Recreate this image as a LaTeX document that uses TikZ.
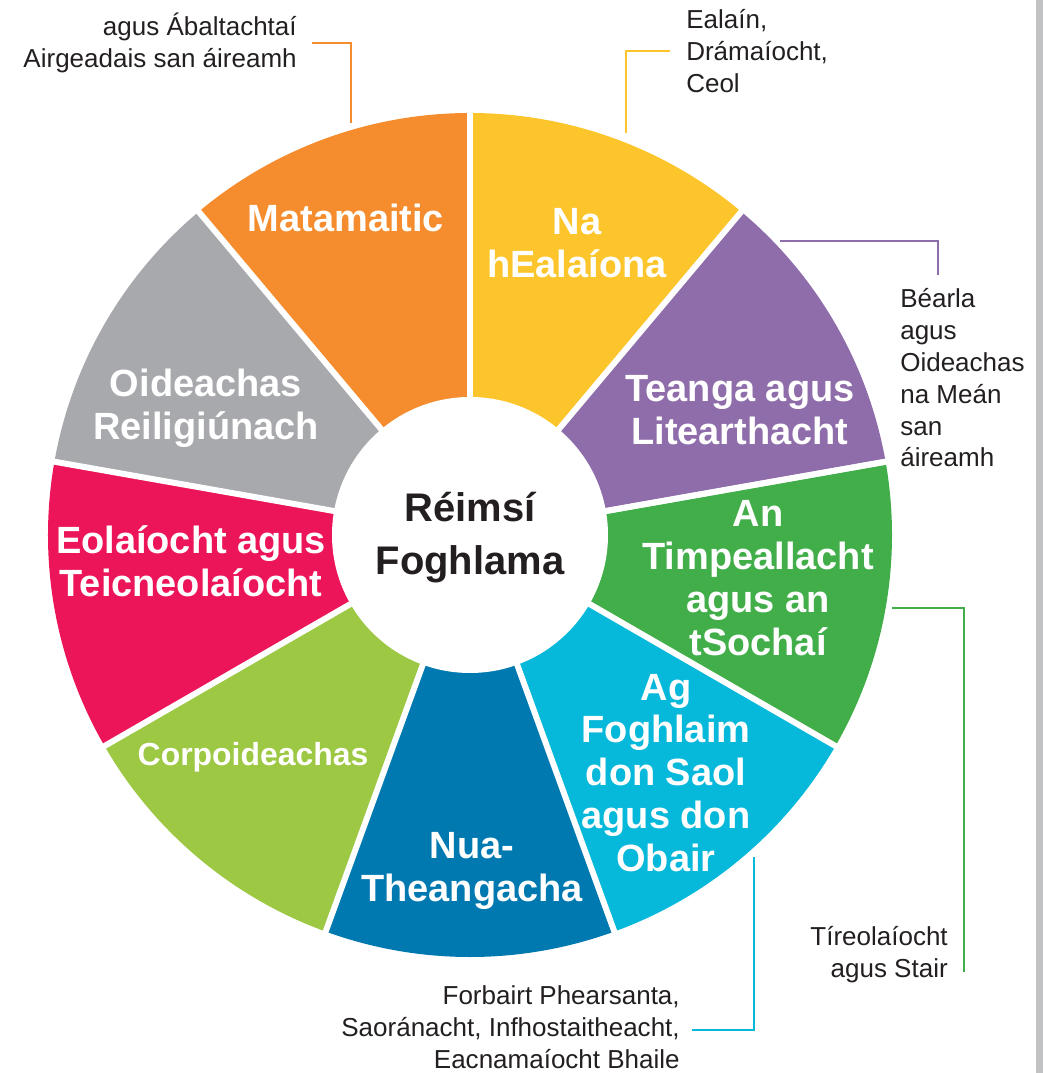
\documentclass[tikz,border=0pt]{standalone}
\usepackage{fontspec}
\setmainfont{Liberation Sans}
\usetikzlibrary{positioning}
\definecolor{mathorange}{HTML}{F58D2E}
\definecolor{artsyellow}{HTML}{FDC52C}
\definecolor{litpurple}{HTML}{8E6DAA}
\definecolor{envgreen}{HTML}{41AE4A}
\definecolor{workcyan}{HTML}{06B8D9}
\definecolor{langblue}{HTML}{0079B1}
\definecolor{peolime}{HTML}{9CC843}
\definecolor{scired}{HTML}{ED1559}
\definecolor{religgrey}{HTML}{A8A9AD}
\definecolor{inkgrey}{HTML}{231F20}
\definecolor{bargrey}{HTML}{C1C2C4}
\begin{document}
\begin{tikzpicture}[
  seglabel/.style={text=white,font=\bfseries\fontsize{27}{30.5}\selectfont,align=center,inner sep=0pt},
  hublabel/.style={text=inkgrey,font=\bfseries\fontsize{28.4}{37.6}\selectfont,align=center,inner sep=0pt},
  note/.style={text=inkgrey,font=\fontsize{18.5}{22.7}\selectfont,inner sep=0pt},
  callout/.style={line width=1.7pt}
]
\useasboundingbox (-11.75,-13.45) rectangle (14.325,13.375);
\fill[bargrey] (14.15,-13.45) rectangle (14.325,13.375);
% the wheel
\foreach \a/\col in {50/artsyellow,90/mathorange,130/religgrey,170/scired,210/peolime,250/langblue,290/workcyan,330/envgreen,370/litpurple}
{
  \fill[\col] (0,0) -- (\a:10.55) arc[start angle=\a,delta angle=40,radius=10.55] -- cycle;
}
\foreach \a in {10,50,...,370}
{
  \draw[white,line width=4.25pt] (0,0) -- (\a:10.6);
}
\fill[white] (0,0) circle (3.45);
\node[hublabel] (hub) at (0,-0.06) {Réimsí\\Foghlama};
% segment labels
\node[seglabel] (math) at (-3.1,7.925) {Matamaitic};
\node[seglabel] (arts) at (2.675,7.3) {Na\\hEalaíona};
\node[seglabel] (lit) at (6.75,3.125) {Teanga agus\\Litearthacht};
\node[seglabel] (env) at (7.2,-1.075) {An\\Timpeallacht\\agus an\\tSochaí};
\node[seglabel] (work) at (4.9,-5.95) {Ag\\Foghlaim\\don Saol\\agus don\\Obair};
\node[seglabel] (lang) at (0.05,-8.4) {Nua-\\Theangacha};
\node[seglabel,font=\bfseries\fontsize{22.7}{26}\selectfont] (peo) at (-5.425,-5.55) {Corpoideachas};
\node[seglabel] (sci) at (-6.975,-0.65) {Eolaíocht agus\\Teicneolaíocht};
\node[seglabel] (relig) at (-6.6,3.175) {Oideachas\\Reiligiúnach};
% callouts
\coordinate (mathtip) at (-2.975,10.3);
\coordinate (mathend) at (-3.95,12.3);
\draw[callout,mathorange] (mathtip) |- (mathend);
\node[note,align=right,left=0.375cm of mathend] (mathnote) {agus Ábaltachtaí\\Airgeadais san áireamh};
\coordinate (artstip) at (3.9,10.05);
\coordinate (artsend) at (5.0,12.1);
\draw[callout,artsyellow] (artstip) |- (artsend);
\node[note,align=left,right=0.4cm of artsend] (artsnote) {Ealaín,\\Drámaíocht,\\Ceol};
\coordinate (littip) at (7.75,7.35);
\coordinate (litend) at (11.7,6.5);
\draw[callout,litpurple] (littip) -| (litend);
\node[note,align=left,anchor=north west] (litnote) at (10.75,6.175) {Béarla\\agus\\Oideachas\\na Meán\\san\\áireamh};
\coordinate (envtip) at (10.55,-1.825);
\coordinate (envend) at (12.35,-10.925);
\draw[callout,envgreen] (envtip) -| (envend);
\node[note,align=right,anchor=east] (envnote) at (11.95,-10.5) {Tíreolaíocht\\agus Stair};
\coordinate (worktip) at (7.1,-8.05);
\coordinate (workend) at (5.55,-12.375);
\draw[callout,workcyan] (worktip) |- (workend);
\node[note,align=right,left=0.3cm of workend,yshift=0.08cm] (worknote) {Forbairt Phearsanta,\\Saoránacht, Infhostaitheacht,\\Eacnamaíocht Bhaile};
\end{tikzpicture}
\end{document}
